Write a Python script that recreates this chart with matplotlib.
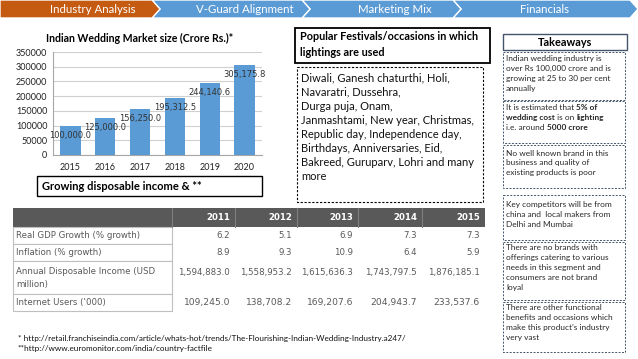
import matplotlib
matplotlib.use("Agg")
import matplotlib.pyplot as plt
from matplotlib.patches import Polygon, Rectangle

# ---------------- data ----------------
years = ['2015', '2016', '2017', '2018', '2019', '2020']
market_size = [100000.0, 125000.0, 156250.0, 195312.5, 244140.6, 305175.8]
y_ticks = [0, 50000, 100000, 150000, 200000, 250000, 300000, 350000]

tabs = ['Industry Analysis', 'V-Guard Alignment', 'Marketing Mix', 'Financials']

table_years = ['2011', '2012', '2013', '2014', '2015']
row_labels = ['Real GDP Growth (% growth)', 'Inflation (% growth)',
              'Annual Disposable Income (USD\nmillion)', "Internet Users ('000)"]
gdp_growth = [6.2, 5.1, 6.9, 7.3, 7.3]
inflation = [8.9, 9.3, 10.9, 6.4, 5.9]
disposable_income = [1594883.0, 1558953.2, 1615636.3, 1743797.5, 1876185.1]
internet_users = [109245.0, 138708.2, 169207.6, 204943.7, 233537.6]

festival_lines = ["Diwali, Ganesh chaturthi, Holi,", "Navaratri, Dussehra,", "Durga puja, Onam,",
                  "Janmashtami, New year, Christmas,", "Republic day, Independence day,",
                  "Birthdays, Anniversaries, Eid,", "Bakreed, Guruparv, Lohri and many", "more"]

takeaways = [
    [[("Indian wedding industry is", False)], [("over Rs 100,000 crore and is", False)],
     [("growing at 25 to 30 per cent", False)], [("annually", False)]],
    [[("It is estimated that ", False), ("5% of", True)],
     [("wedding cost", True), (" is on ", False), ("lighting", True)],
     [("i.e. around ", False), ("5000 crore", True)]],
    [[("No well known brand in this", False)], [("business and quality of", False)],
     [("existing products is poor", False)]],
    [[("Key competitors will be from", False)], [("china and  local makers from", False)],
     [("Delhi and Mumbai", False)]],
    [[("There are no brands with", False)], [("offerings catering to various", False)],
     [("needs in this segment and", False)], [("consumers are not brand", False)], [("loyal", False)]],
    [[("There are other functional", False)], [("benefits and occasions which", False)],
     [("make this product\u2019s industry", False)], [("very vast", False)]],
]

FONT = 'Lato'
W, H = 638, 359
fig = plt.figure(figsize=(W / 100, H / 100), dpi=100)
fig.patch.set_facecolor('white')
ov = fig.add_axes([0, 0, 1, 1])
ov.set_xlim(0, W)
ov.set_ylim(H, 0)
ov.axis('off')

# ---------------- header chevrons ----------------
bounds = [0, 152, 302, 453, 630]
tab_centers = [93, 245, 395, 545]
tip = 8
colors = ['#C55A11', '#5B9BD5', '#5B9BD5', '#5B9BD5']
for i, name in enumerate(tabs):
    L, R = bounds[i], bounds[i + 1]
    pts = [(L, 0), (R, 0), (R + tip, 9), (R, 18), (L, 18)]
    if i > 0:
        pts.append((L + tip, 9))
    ov.add_patch(Polygon(pts, closed=True, facecolor=colors[i], edgecolor='white', lw=1.0,
                         zorder=2 + (4 - i)))
    ov.text(tab_centers[i], 9.5, name, color='white', fontsize=8.3, family=FONT,
            ha='center', va='center', zorder=10)

# ---------------- bar chart ----------------
x0, x1, y0, y1 = 53, 262, 52, 155
axc = fig.add_axes([x0 / W, (H - y1) / H, (x1 - x0) / W, (y1 - y0) / H])
bars = axc.bar(years, market_size, width=0.58, color='#5B9BD5', zorder=3)
axc.set_ylim(0, 350000)
axc.set_yticks(y_ticks)
axc.set_yticklabels([str(v) for v in y_ticks], fontsize=6.5, family=FONT, color='#222222')
axc.tick_params(axis='x', labelsize=6.5, length=0, pad=6, colors='#222222')
axc.tick_params(axis='y', length=0, pad=4)
for lab in axc.get_xticklabels():
    lab.set_family(FONT)
axc.grid(axis='y', color='#d0d0d0', lw=0.8, zorder=0)
axc.set_axisbelow(True)
for s in ['top', 'right']:
    axc.spines[s].set_visible(False)
for s in ['left', 'bottom']:
    axc.spines[s].set_color('#a6a6a6')
    axc.spines[s].set_linewidth(0.8)
axc.set_xlim(-0.5, 5.5)
for b, v in zip(bars, market_size):
    axc.annotate(f"{v:,.1f}", (b.get_x() + b.get_width() / 2, v), xytext=(0, -7),
                 textcoords='offset points', ha='center', va='center', fontsize=6,
                 family='DejaVu Sans', color='#333333', zorder=5)

ov.text(140, 38, 'Indian Wedding Market size (Crore Rs.)*', fontsize=7.6, fontweight='bold',
        family=FONT, ha='center', va='center')
ov.add_patch(Rectangle((37, 176), 225, 20, fill=False, edgecolor='black', lw=1.0))
ov.text(42, 186.5, 'Growing disposable income & **', fontsize=8, fontweight='bold',
        family=FONT, ha='left', va='center')

# ---------------- festivals ----------------
ov.add_patch(Rectangle((295, 28), 195, 35, fill=False, edgecolor='black', lw=1.3))
ov.text(300, 36, 'Popular Festivals/occasions in which', fontsize=7.8, fontweight='bold',
        family=FONT, ha='left', va='center')
ov.text(300, 52, 'lightings are used', fontsize=7.8, fontweight='bold',
        family=FONT, ha='left', va='center')
ov.add_patch(Rectangle((297, 67), 186, 135, fill=False, edgecolor='black', lw=0.8,
                       linestyle=(0, (2, 1.5))))
for k, line in enumerate(festival_lines):
    ov.text(301, 78 + k * 14.1, line, fontsize=8.0, family=FONT, ha='left', va='center',
            color='#111111')

# ---------------- takeaways ----------------
ov.add_patch(Rectangle((503, 34), 124, 16, fill=False, edgecolor='#44546A', lw=1.0))
ov.text(565, 42.5, 'Takeaways', fontsize=7.8, fontweight='bold', family=FONT,
        ha='center', va='center')
boxes = [(52, 100), (101, 143), (145, 188), (195, 240), (242, 300), (302, 352)]
first_y = [59, 108, 153, 205, 248, 308]
renderer = fig.canvas.get_renderer()
for (top, bot), fy, lines in zip(boxes, first_y, takeaways):
    ov.add_patch(Rectangle((503, top), 122, bot - top, fill=False, edgecolor='#44546A',
                           lw=0.7, linestyle=(0, (2, 1.5))))
    for k, runs in enumerate(lines):
        x = 506
        y = fy + k * 9.8
        for txt, bold in runs:
            t = ov.text(x, y, txt, fontsize=5.95, family=FONT,
                        fontweight='bold' if bold else 'normal',
                        ha='left', va='center', color='#262626')
            bb = t.get_window_extent(renderer=renderer)
            x += bb.width

# ---------------- table ----------------
col_edges = [172, 235, 297, 358, 422, 485]
ov.add_patch(Rectangle((13, 208), 472, 19, facecolor='#595959', edgecolor='none'))
for e in col_edges[:-1]:
    ov.plot([e, e], [208, 227], color='#7f7f7f', lw=0.8)
for j, yr in enumerate(table_years):
    ov.text(col_edges[j + 1] - 5, 218, yr, fontsize=6.2, fontweight='bold', color='white',
            family='DejaVu Sans', ha='right', va='center')
row_bounds = [(227, 244), (244, 261), (261, 294), (294, 311)]
row_values = [[f"{v:.1f}" for v in gdp_growth], [f"{v:.1f}" for v in inflation],
              [f"{v:,.1f}" for v in disposable_income], [f"{v:,.1f}" for v in internet_users]]
for r, ((t, b), lab, vals) in enumerate(zip(row_bounds, row_labels, row_values)):
    ov.add_patch(Rectangle((13, t), 159, b - t, facecolor='white', edgecolor='#bfbfbf', lw=0.8))
    if r == 2:
        ov.text(16, 272, 'Annual Disposable Income (USD', fontsize=6.2, color='#595959',
                family='DejaVu Sans', ha='left', va='center')
        ov.text(16, 284, 'million)', fontsize=6.2, color='#595959',
                family='DejaVu Sans', ha='left', va='center')
        vy = 272
    else:
        vy = (t + b) / 2
        ov.text(16, vy, lab, fontsize=6.2, color='#595959', family='DejaVu Sans',
                ha='left', va='center')
    for j, v in enumerate(vals):
        ov.text(col_edges[j + 1] - 5, vy, v, fontsize=6.2 if r < 3 else 6.6, color='#595959',
                family='DejaVu Sans', ha='right', va='center')

# ---------------- footnotes ----------------
ov.text(18, 339, '* http://retail.franchiseindia.com/article/whats-hot/trends/The-Flourishing-Indian-Wedding-Industry.a247/',
        fontsize=5.9, family=FONT, ha='left', va='center', color='#111111')
ov.text(18, 349, '**http://www.euromonitor.com/india/country-factfile',
        fontsize=5.9, family=FONT, ha='left', va='center', color='#111111')

fig.savefig('out.png', dpi=100, facecolor='white')
